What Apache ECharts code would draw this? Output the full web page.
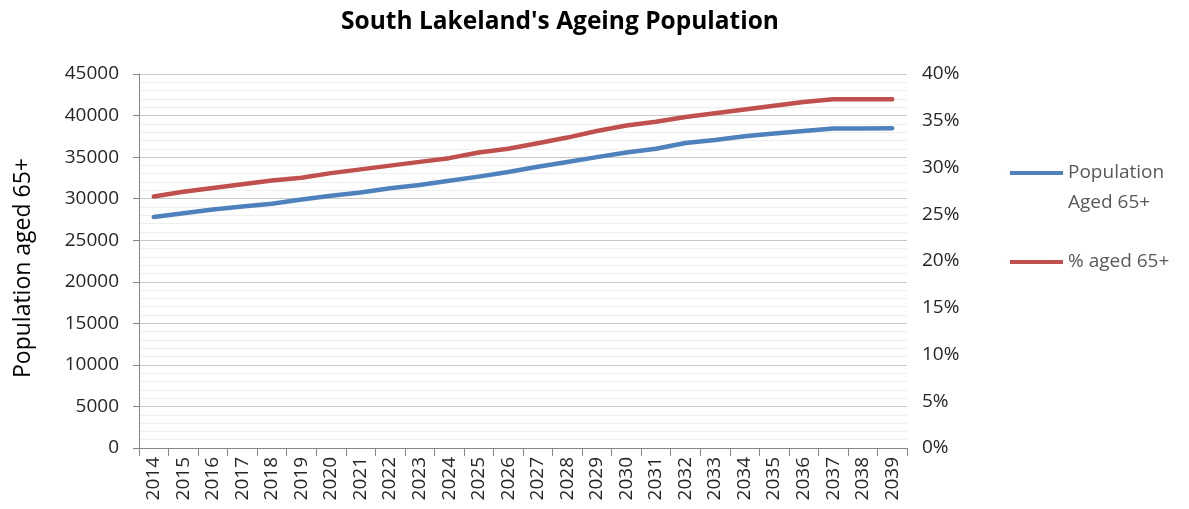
<!DOCTYPE html>
<html>
<head>
<meta charset="utf-8">
<script src="https://cdn.jsdelivr.net/npm/echarts@6/dist/echarts.min.js"></script>
<style>
  html, body { margin: 0; padding: 0; background: #ffffff; }
  #chart { width: 1189px; height: 509px; }
</style>
</head>
<body>
<div id="chart"></div>
<script>
// Projected residents aged 65 and over, South Lakeland
const years = ['2014','2015','2016','2017','2018','2019','2020','2021','2022','2023','2024','2025','2026',
               '2027','2028','2029','2030','2031','2032','2033','2034','2035','2036','2037','2038','2039'];
const populationAged65 = [27800, 28250, 28700, 29050, 29400, 29900, 30350, 30750, 31250, 31650, 32150, 32650, 33200,
                          33850, 34400, 35000, 35550, 36000, 36700, 37050, 37500, 37850, 38150, 38450, 38450, 38470];
const percentAged65 = [26.9, 27.4, 27.8, 28.2, 28.6, 28.9, 29.4, 29.8, 30.2, 30.6, 31.0, 31.6, 32.0,
                       32.6, 33.2, 33.9, 34.5, 34.9, 35.4, 35.8, 36.2, 36.6, 37.0, 37.3, 37.3, 37.3];
const seriesNames = ['Population Aged 65+', '% aged 65+'];

const FONT = '"Open Sans", "Noto Sans", sans-serif';
const chart = echarts.init(document.getElementById('chart'), null, { renderer: 'canvas' });

chart.setOption({
  backgroundColor: '#ffffff',
  animation: false,
  title: {
    text: "South Lakeland's Ageing Population",
    left: 555, top: 5, textAlign: 'center',
    textStyle: { fontFamily: FONT, fontSize: 24.5, fontWeight: 'bold', color: '#000000' }
  },
  legend: {
    orient: 'vertical',
    left: 1010, top: 128,
    padding: 0,
    itemWidth: 53, itemHeight: 4,
    itemGap: 29,
    icon: 'rect',
    data: seriesNames,
    // a blank first line keeps "Population" level with the key line
    formatter: name => name === seriesNames[0] ? '\nPopulation\nAged 65+' : name,
    textStyle: { fontFamily: FONT, fontSize: 19, color: '#595959', lineHeight: 30 }
  },
  grid: { left: 139, right: 282, top: 74, bottom: 61, containLabel: false },
  xAxis: {
    type: 'category',
    data: years,
    boundaryGap: true,
    axisLine: { lineStyle: { color: '#868686', width: 1 } },
    axisTick: { show: true, alignWithLabel: false, length: 8, lineStyle: { color: '#868686' } },
    axisLabel: { rotate: 90, interval: 0, margin: 9, fontFamily: FONT, fontSize: 19, color: '#262626' },
    splitLine: { show: false }
  },
  yAxis: [
    {
      type: 'value', min: 0, max: 45000, interval: 5000,
      name: 'Population aged 65+',
      nameLocation: 'middle', nameRotate: 90, nameGap: 104,
      nameTextStyle: { fontFamily: FONT, fontSize: 23, color: '#000000', padding: [0, 14, 0, 0] },
      axisLine: { show: true, lineStyle: { color: '#868686' } },
      axisTick: { show: true, length: 6, lineStyle: { color: '#868686' } },
      axisLabel: { margin: 20, formatter: v => String(v), fontFamily: FONT, fontSize: 19, color: '#262626' },
      splitLine: { show: true, lineStyle: { color: '#c8c8c8', width: 1 } },
      minorTick: { show: false, splitNumber: 5 },
      minorSplitLine: { show: true, lineStyle: { color: '#efefef', width: 1 } }
    },
    {
      type: 'value', min: 0, max: 40, interval: 5, position: 'right',
      axisLine: { show: false },
      axisTick: { show: false },
      axisLabel: { margin: 15, formatter: '{value}%', fontFamily: FONT, fontSize: 19, color: '#262626' },
      splitLine: { show: false }
    }
  ],
  series: [
    {
      name: seriesNames[0], type: 'line', yAxisIndex: 0,
      data: populationAged65, showSymbol: false, symbol: 'none',
      lineStyle: { color: '#4f81bd', width: 4.5, cap: 'round', join: 'round' },
      itemStyle: { color: '#4f81bd' }
    },
    {
      name: seriesNames[1], type: 'line', yAxisIndex: 1,
      data: percentAged65, showSymbol: false, symbol: 'none',
      lineStyle: { color: '#c0504d', width: 4.5, cap: 'round', join: 'round' },
      itemStyle: { color: '#c0504d' }
    }
  ]
});
</script>
</body>
</html>
